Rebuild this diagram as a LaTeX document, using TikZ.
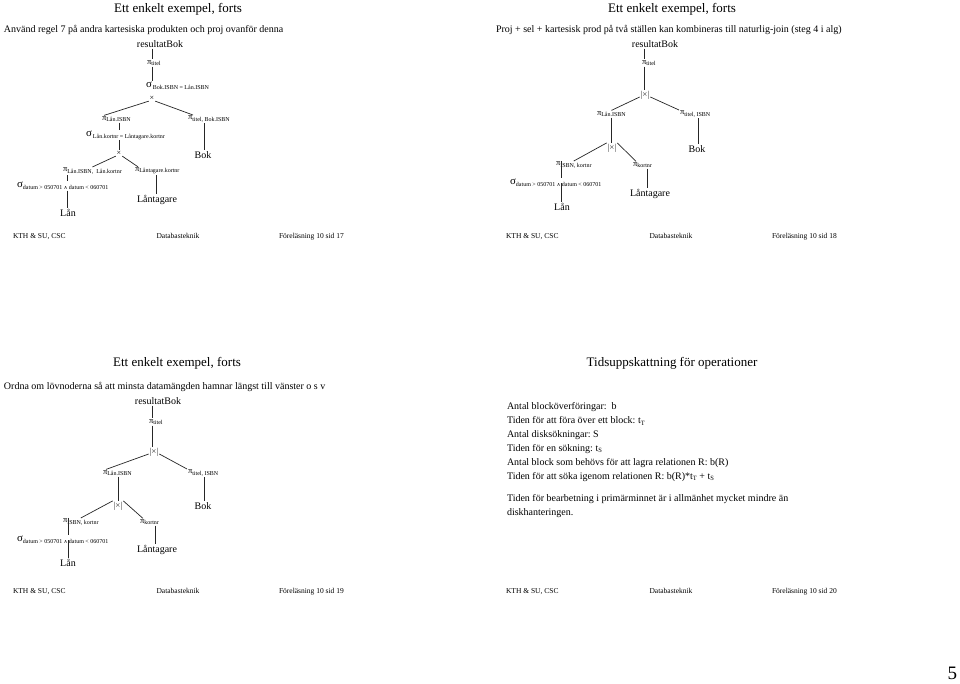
\documentclass[tikz,border=0pt]{standalone}
\usepackage{fontspec}
\setmainfont{Liberation Serif}
\newfontfamily\symf{DejaVu Sans}
\newcommand{\pis}[1]{{\fontsize{8.5}{10}\selectfont π}\raisebox{-1.2pt}{\fontsize{6}{7}\selectfont #1}}
\newcommand{\sig}[1]{{\fontsize{11}{12}\selectfont σ}\raisebox{-1.8pt}{\fontsize{6}{7}\selectfont #1}}
\newcommand{\andop}{{\symf\fontsize{5}{6}\selectfont ∧}}
\tikzset{
  every node/.style={inner sep=1pt, outer sep=0pt},
  ttl/.style={font=\fontsize{13}{15}\selectfont},
  body/.style={font=\fontsize{10}{12}\selectfont, anchor=west},
  foot/.style={font=\fontsize{7.5}{9}\selectfont, anchor=base},
  footw/.style={foot, anchor=base west},
  rel/.style={font=\fontsize{10}{12}\selectfont},
  op/.style={anchor=west},
  crossop/.style={font=\fontsize{8}{9}\selectfont},
  joinop/.style={font=\fontsize{9}{10}\selectfont, text=black!80},
  conn/.style={line width=0.7pt, draw=black!85},
}
\begin{document}
\begin{tikzpicture}[x=1pt,y=-1pt]
\fill[white] (0,0) rectangle (960,683);
\useasboundingbox (0,0) rectangle (960,683);

% ---------------- slide 17 ----------------
\node[ttl] (t1) at (178,9) {Ett enkelt exempel, forts};
\node[body] (i1) at (3,30) {Använd regel 7 på andra kartesiska produkten och proj ovanför denna};
\node[rel] (a1) at (160,44) {resultatBok};
\node[op] (a2) at (146,63) {\pis{titel}};
\node[op] (a3) at (145,86) {\sig{\,Bok.ISBN = Lån.ISBN}};
\node[crossop] (a4) at (152,98) {×};
\node[op] (a5) at (101,119) {\pis{Lån.ISBN}};
\node[op] (a6) at (187,119) {\pis{titel, Bok.ISBN}};
\node[op] (a7) at (85,135) {\sig{\,Lån.kortnr = Låntagare.kortnr}};
\node[crossop] (a8) at (119,153) {×};
\node[op] (a9) at (62,171) {\pis{Lån.ISBN,\ \ Lån.kortnr}};
\node[op] (a10) at (134,171) {\pis{Låntagare.kortnr}};
\node[rel] (a11) at (203,155) {Bok};
\node[op] (a12) at (16,186) {\sig{datum > 050701 \andop\ datum < 060701}};
\node[rel] (a13) at (68,213) {Lån};
\node[rel] (a14) at (157,200) {Låntagare};
\node[footw] (f1a) at (12,238) {KTH \& SU, CSC};
\node[foot] (f1b) at (178,238) {Databasteknik};
\node[footw] (f1c) at (278,238) {Föreläsning 10 sid 17};

\coordinate (A152) at (152,0);
\coordinate (A119) at (119,0);
\coordinate (A204) at (204,0);
\coordinate (A67) at (67,0);
\coordinate (A156) at (156,0);
\draw[conn] (a1.south -| A152) -- (a2.north -| A152);
\draw[conn] (a2.south -| A152) -- (a3.north -| A152);
\draw[conn] (a4.south west) -- ([xshift=3pt]a5.north west);
\draw[conn] (a4.south east) -- ([xshift=6pt]a6.north west);
\draw[conn] (a5.south -| A119) -- (a7.north -| A119);
\draw[conn] (a7.south -| A119) -- (a8.north -| A119);
\draw[conn] (a8.south west) -- (a9.north);
\draw[conn] (a8.south east) -- ([xshift=4pt]a10.north west);
\draw[conn] (a6.south -| A204) -- (a11.north -| A204);
\draw[conn] (a9.south -| A67) -- (a12.north -| A67);
\draw[conn] (a12.south -| A67) -- (a13.north -| A67);
\draw[conn] (a10.south -| A156) -- (a14.north -| A156);

% ---------------- slide 18 ----------------
\node[ttl] (t2) at (672,9) {Ett enkelt exempel, forts};
\node[body] (i2) at (495,30) {Proj + sel + kartesisk prod på två ställen kan kombineras till naturlig-join (steg 4 i alg)};
\node[rel] (b1) at (655,44) {resultatBok};
\node[op] (b2) at (641,63) {\pis{titel}};
\node[joinop] (b3) at (645,95) {|×|};
\node[op] (b4) at (596,114) {\pis{Lån.ISBN}};
\node[op] (b5) at (679,114) {\pis{titel,\ ISBN}};
\node[joinop] (b6) at (612,148) {|×|};
\node[rel] (b7) at (697,149) {Bok};
\node[op] (b8) at (555,165) {\pis{ISBN, kortnr}};
\node[op] (b9) at (632,165) {\pis{kortnr}};
\node[op] (b10) at (509,183) {\sig{datum > 050701 \andop\ datum < 060701}};
\node[rel] (b11) at (562,207) {Lån};
\node[rel] (b12) at (650,194) {Låntagare};
\node[footw] (f2a) at (505,238) {KTH \& SU, CSC};
\node[foot] (f2b) at (671,238) {Databasteknik};
\node[footw] (f2c) at (771,238) {Föreläsning 10 sid 18};

\coordinate (B644) at (644,0);
\coordinate (B611) at (611,0);
\coordinate (B698) at (698,0);
\coordinate (B561) at (561,0);
\coordinate (B647) at (647,0);
\draw[conn] (b1.south -| B644) -- (b2.north -| B644);
\draw[conn] (b2.south -| B644) -- (b3.north -| B644);
\draw[conn] ([yshift=-2pt]b3.west) -- (b4.north);
\draw[conn] ([yshift=-2pt]b3.east) -- (b5.north west);
\draw[conn] (b4.south -| B611) -- (b6.north -| B611);
\draw[conn] (b5.south -| B698) -- (b7.north -| B698);
\draw[conn] (b6.north west) -- (b8.north);
\draw[conn] (b6.north east) -- ([xshift=4pt]b9.north west);
\draw[conn] (b8.north -| B561) -- (b10.north -| B561);
\draw[conn] (b10.center -| B561) -- (b11.north -| B561);
\draw[conn] (b9.south -| B647) -- (b12.north -| B647);

% ---------------- slide 19 ----------------
\node[ttl] (t3) at (177,363) {Ett enkelt exempel, forts};
\node[body] (i3) at (3,387) {Ordna om lövnoderna så att minsta datamängden hamnar längst till vänster o s v};
\node[rel] (c1) at (158,401) {resultatBok};
\node[op] (c2) at (148,422) {\pis{titel}};
\node[joinop] (c3) at (154,452) {|×|};
\node[op] (c4) at (102,473) {\pis{Lån.ISBN}};
\node[op] (c5) at (187,473) {\pis{titel,\ ISBN}};
\node[joinop] (c6) at (118,506) {|×|};
\node[rel] (c7) at (203,506) {Bok};
\node[op] (c8) at (62,522) {\pis{ISBN, kortnr}};
\node[op] (c9) at (139,522) {\pis{kortnr}};
\node[op] (c10) at (16,540) {\sig{datum > 050701 \andop\ datum < 060701}};
\node[rel] (c11) at (68,563) {Lån};
\node[rel] (c12) at (157,550) {Låntagare};
\node[footw] (f3a) at (12,593) {KTH \& SU, CSC};
\node[foot] (f3b) at (178,593) {Databasteknik};
\node[footw] (f3c) at (278,593) {Föreläsning 10 sid 19};

\coordinate (C152) at (152,0);
\coordinate (C118) at (118,0);
\coordinate (C204) at (204,0);
\coordinate (C68) at (68,0);
\coordinate (C155) at (155,0);
\draw[conn] (c1.south -| C152) -- (c2.north -| C152);
\draw[conn] (c2.south -| C152) -- (c3.north -| C152);
\draw[conn] ([yshift=-2pt]c3.west) -- ([xshift=4pt]c4.north west);
\draw[conn] ([yshift=-2pt]c3.east) -- (c5.north west);
\draw[conn] (c4.south -| C118) -- (c6.north -| C118);
\draw[conn] (c5.south -| C204) -- (c7.north -| C204);
\draw[conn] (c6.north west) -- (c8.north);
\draw[conn] (c6.north east) -- ([xshift=4pt]c9.north west);
\draw[conn] (c8.north -| C68) -- (c10.north -| C68);
\draw[conn] (c10.center -| C68) -- (c11.north -| C68);
\draw[conn] (c9.south -| C155) -- (c12.north -| C155);

% ---------------- slide 20 ----------------
\node[ttl] (t4) at (672,363) {Tidsuppskattning för operationer};
\node[body] (d1) at (506,407) {Antal blocköverföringar:\ \ b};
\node[body] (d2) at (506,421) {Tiden för att föra över ett block:\ t\raisebox{-1.5pt}{\fontsize{6.5}{7}\selectfont T}};
\node[body] (d3) at (506,435) {Antal disksökningar:\ S};
\node[body] (d4) at (506,449) {Tiden för en sökning:\ t\raisebox{-1.5pt}{\fontsize{6.5}{7}\selectfont S}};
\node[body] (d5) at (506,463) {Antal block som behövs för att lagra relationen R: b(R)};
\node[body] (d6) at (506,477) {Tiden för att söka igenom relationen R: b(R)*t\raisebox{-1.5pt}{\fontsize{6.5}{7}\selectfont T} + t\raisebox{-1.5pt}{\fontsize{6.5}{7}\selectfont S}};
\node[body] (d7) at (506,499) {Tiden för bearbetning i primärminnet är i allmänhet mycket mindre än};
\node[body] (d8) at (506,513) {diskhanteringen.};
\node[footw] (f4a) at (505,593) {KTH \& SU, CSC};
\node[foot] (f4b) at (671,593) {Databasteknik};
\node[footw] (f4c) at (771,593) {Föreläsning 10 sid 20};

\node[font=\fontsize{19}{21}\selectfont, anchor=base east, inner sep=0pt] (pg) at (957,679) {5};
\end{tikzpicture}
\end{document}
